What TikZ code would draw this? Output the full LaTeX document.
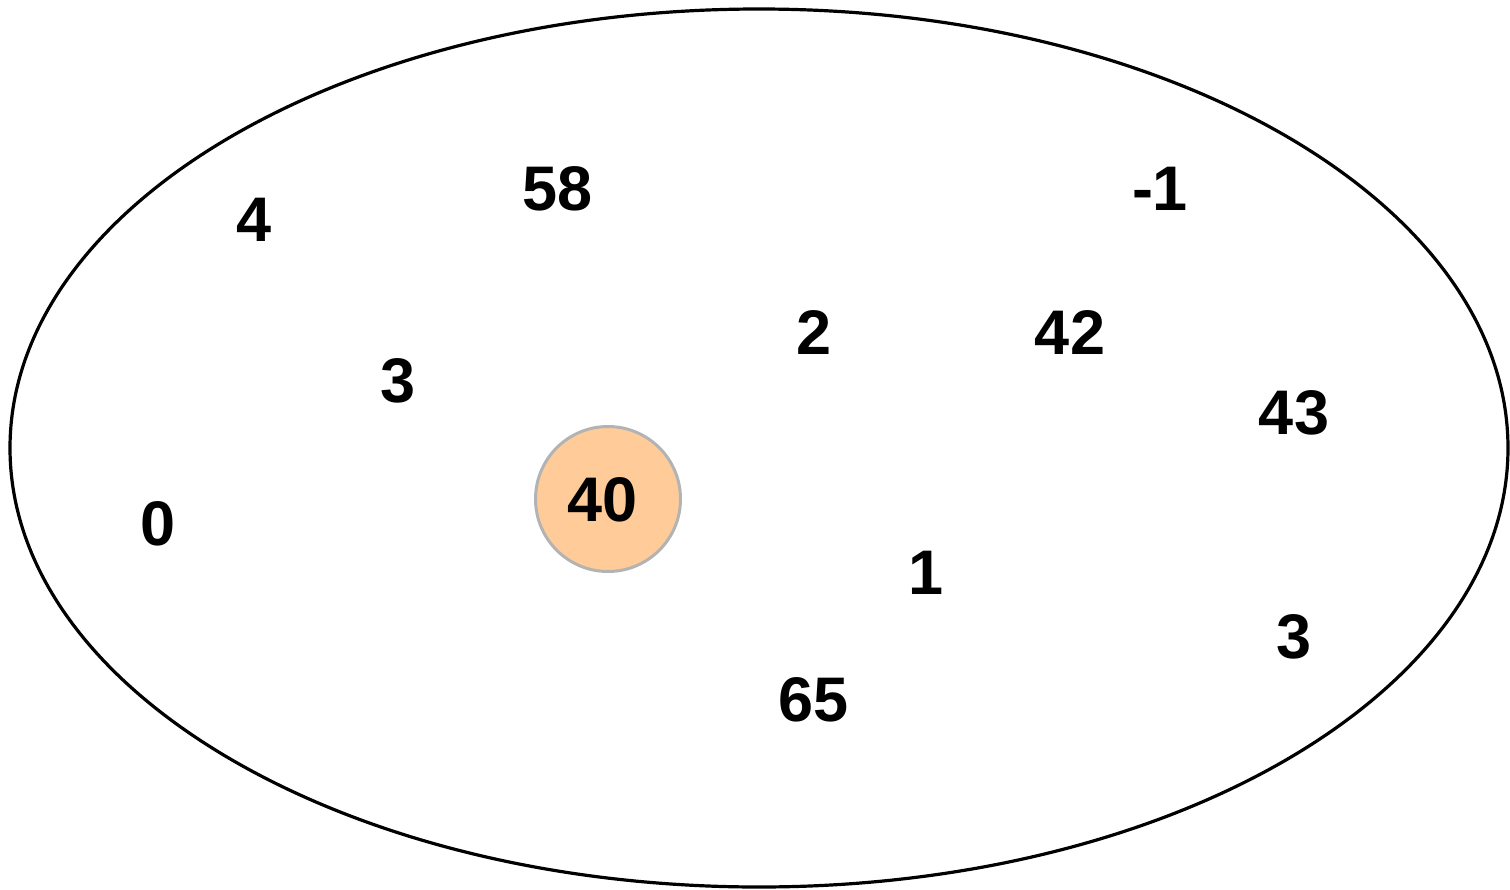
\documentclass[tikz,border=0pt]{standalone}
\usepackage{fontspec}
\setmainfont{Liberation Sans}
\definecolor{peach}{HTML}{FFCC99}
\definecolor{ringgray}{HTML}{B3B3B3}
\begin{document}
\begin{tikzpicture}[x=1pt,y=-1pt,
  num/.style={font=\fontsize{63}{63}\selectfont\bfseries, inner sep=0pt, anchor=center},
  hl/.style={circle, fill=peach, draw=ringgray, line width=3pt, minimum size=145pt, inner sep=0pt}]
\useasboundingbox (0,0) rectangle (1510,889);
\draw[line width=3.2pt] (759,448) ellipse [x radius=749, y radius=439];
\node[hl] (c40) at (608,499) {};
\node[num] (n40) at (603,500) {40};
\node[num] (n4) at (254,220) {4};
\node[num] (n58) at (558,189) {58};
\node[num] (nm1) at (1160,189) {-1};
\node[num] (n3a) at (398,381) {3};
\node[num] (n2) at (814,333) {2};
\node[num] (n42) at (1070,333) {42};
\node[num] (n43) at (1294,413) {43};
\node[num] (n0) at (158,524) {0};
\node[num] (n1) at (926,573) {1};
\node[num] (n3b) at (1294,637) {3};
\node[num] (n65) at (814,700) {65};
\end{tikzpicture}
\end{document}
